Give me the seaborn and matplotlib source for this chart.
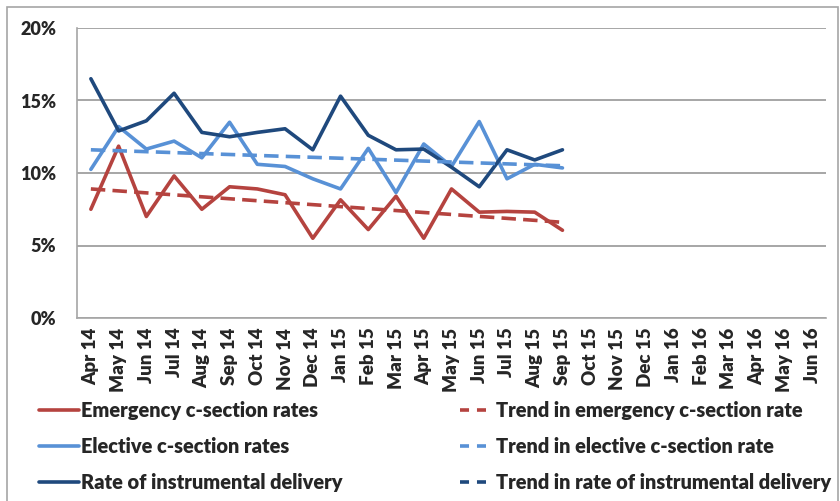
import pandas as pd
import numpy as np
import matplotlib.pyplot as plt
import matplotlib.ticker as mtick
from matplotlib.lines import Line2D
import seaborn as sns

months = ['Apr 14', 'May 14', 'Jun 14', 'Jul 14', 'Aug 14', 'Sep 14', 'Oct 14', 'Nov 14', 'Dec 14',
          'Jan 15', 'Feb 15', 'Mar 15', 'Apr 15', 'May 15', 'Jun 15', 'Jul 15', 'Aug 15', 'Sep 15',
          'Oct 15', 'Nov 15', 'Dec 15', 'Jan 16', 'Feb 16', 'Mar 16', 'Apr 16', 'May 16', 'Jun 16']

# monthly rates (%) Apr 14 - Sep 15
emergency = [7.5, 11.85, 7.0, 9.8, 7.5, 9.05, 8.9, 8.5, 5.5, 8.15, 6.1, 8.4,
             5.5, 8.9, 7.3, 7.35, 7.3, 6.05]
elective = [10.25, 13.2, 11.65, 12.2, 11.05, 13.5, 10.6, 10.45, 9.6, 8.9, 11.7, 8.65,
            12.0, 10.45, 13.55, 9.6, 10.6, 10.35]
instrumental = [16.5, 12.9, 13.6, 15.5, 12.8, 12.5, 12.8, 13.05, 11.6, 15.3, 12.6, 11.6,
                11.65, 10.4, 9.05, 11.6, 10.9, 11.6]

# trend lines, start (Apr 14) and end (Sep 15)
trend_emergency = [8.9, 6.6]
trend_elective = [11.6, 10.5]

red = '#B5433F'
light = '#5891D6'
dark = '#1F497D'
grey = '#A6A6A6'

sns.set_style('white')
plt.rcParams['font.family'] = ['Lato', 'DejaVu Sans']

n = len(emergency)
df = pd.DataFrame({
    'x': list(range(n)) * 3,
    'rate': np.array(emergency + elective + instrumental) / 100,
    'series': ['Emergency c-section rates'] * n + ['Elective c-section rates'] * n
              + ['Rate of instrumental delivery'] * n,
})
trend = pd.DataFrame({
    'x': [0, n - 1, 0, n - 1],
    'rate': np.array(trend_emergency + trend_elective) / 100,
    'series': ['Trend in emergency c-section rate'] * 2 + ['Trend in elective c-section rate'] * 2,
})

fig = plt.figure(figsize=(8.4, 5.01), dpi=100)
ax = fig.add_axes([77 / 840, 1 - 318 / 501, (826 - 77) / 840, (318 - 28) / 501])

sns.lineplot(data=df, x='x', y='rate', hue='series', sort=False, linewidth=2.6,
             palette=[red, light, dark], legend=False, ax=ax)
sns.lineplot(data=trend, x='x', y='rate', hue='series', sort=False, linewidth=2.6,
             palette=[red, light], legend=False, ax=ax)
for line in ax.lines[3:]:
    line.set_dashes((4, 2))

ax.set_xlim(-0.5, len(months) - 0.5)
ax.set_ylim(0, 0.2)
ax.set_yticks(np.arange(0, 0.21, 0.05))
ax.yaxis.set_major_formatter(mtick.PercentFormatter(1.0, decimals=0))
ax.set_xticks(range(len(months)))
ax.set_xticklabels(months, rotation=90, fontweight='heavy', fontsize=13.5)
ax.set_xticks(np.arange(-0.5, len(months), 1), minor=True)
ax.tick_params(axis='x', which='major', length=0, pad=7)
ax.tick_params(axis='x', which='minor', length=6, color=grey, width=1.2)
ax.tick_params(axis='y', length=7, color=grey, width=1.2, labelsize=13, pad=8)
for lab in ax.get_yticklabels():
    lab.set_fontweight('heavy')
ax.set_xlabel('')
ax.set_ylabel('')
ax.grid(axis='y', color=grey, linewidth=1.4)
ax.set_axisbelow(True)
for s in ['top', 'right']:
    ax.spines[s].set_visible(False)
for s in ['left', 'bottom']:
    ax.spines[s].set_color(grey)
    ax.spines[s].set_linewidth(1.2)

# legend
lfont = {'family': ['Lato', 'DejaVu Sans'], 'weight': 'heavy', 'size': 14.4}
left_handles = [Line2D([], [], color=c, lw=2.6) for c in [red, light, dark]]
left_labels = ['Emergency c-section rates', 'Elective c-section rates', 'Rate of instrumental delivery']
right_handles = [Line2D([], [], color=c, lw=2.6, dashes=(2.5, 2.2)) for c in [red, light, dark]]
right_labels = ['Trend in emergency c-section rate', 'Trend in elective c-section rate',
                'Trend in rate of instrumental delivery']
fig.legend(left_handles, left_labels, loc='upper left', bbox_to_anchor=(21 / 840, 1 - 383 / 501),
           frameon=False, prop=lfont, handlelength=2.0, handletextpad=0.1, labelspacing=0.85)
fig.legend(right_handles, right_labels, loc='upper left', bbox_to_anchor=(442 / 840, 1 - 383 / 501),
           frameon=False, prop=lfont, handlelength=1.5, handletextpad=0.3, labelspacing=0.85)

fig.add_artist(plt.Rectangle((7 / 840, -0.1), (838 - 7) / 840, 1.1 - 7 / 501,
                             transform=fig.transFigure, fill=False, edgecolor=grey, linewidth=1.2))

fig.savefig('out.png', dpi=100)
